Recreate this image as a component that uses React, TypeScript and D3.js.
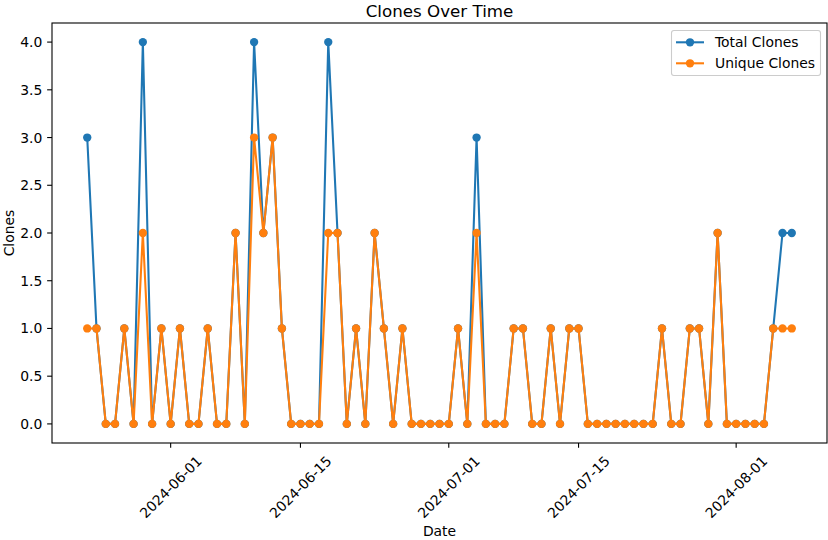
import * as d3 from 'd3';
import { useEffect, useRef } from 'react';

// daily clone counts, 2024-05-23 .. 2024-08-07
const startDate = '2024-05-23';
const totalClones = [
  3, 1, 0, 0, 1, 0, 4, 0, 1, 0,
  1, 0, 0, 1, 0, 0, 2, 0, 4, 2,
  3, 1, 0, 0, 0, 0, 4, 2, 0, 1,
  0, 2, 1, 0, 1, 0, 0, 0, 0, 0,
  1, 0, 3, 0, 0, 0, 1, 1, 0, 0,
  1, 0, 1, 1, 0, 0, 0, 0, 0, 0,
  0, 0, 1, 0, 0, 1, 1, 0, 2, 0,
  0, 0, 0, 0, 1, 2, 2,
];
const uniqueClones = [
  1, 1, 0, 0, 1, 0, 2, 0, 1, 0,
  1, 0, 0, 1, 0, 0, 2, 0, 3, 2,
  3, 1, 0, 0, 0, 0, 2, 2, 0, 1,
  0, 2, 1, 0, 1, 0, 0, 0, 0, 0,
  1, 0, 2, 0, 0, 0, 1, 1, 0, 0,
  1, 0, 1, 1, 0, 0, 0, 0, 0, 0,
  0, 0, 1, 0, 0, 1, 1, 0, 2, 0,
  0, 0, 0, 0, 1, 1, 1,
];
const xTickLabels = ['2024-06-01', '2024-06-15', '2024-07-01', '2024-07-15', '2024-08-01'];
const yTicks = [0, 0.5, 1, 1.5, 2, 2.5, 3, 3.5, 4];

const series = [
  { name: 'Total Clones', values: totalClones, color: '#1f77b4' },
  { name: 'Unique Clones', values: uniqueClones, color: '#ff7f0e' },
];

const App = () => {
  const svgRef = useRef<SVGSVGElement>(null);
  const width = 828, height = 540;
  const margin = { top: 23, right: 1, bottom: 97, left: 52 };
  const font = '"DejaVu Sans", sans-serif';
  const fs = 13.9;

  useEffect(() => {
    const svg = d3.select(svgRef.current);
    svg.selectAll('*').remove();

    const parse = d3.utcParse('%Y-%m-%d');
    const t0 = parse(startDate)!;
    const dates = totalClones.map((_, i) => d3.utcDay.offset(t0, i));
    const [dMin, dMax] = d3.extent(dates) as [Date, Date];
    const pad = (+dMax - +dMin) * 0.05;

    const x = d3.scaleUtc()
      .domain([new Date(+dMin - pad), new Date(+dMax + pad)])
      .range([margin.left, width - margin.right]);
    const y = d3.scaleLinear()
      .domain([-0.2, 4.2])
      .range([height - margin.bottom, margin.top]);

    const bottom = height - margin.bottom;

    // y ticks
    const yg = svg.append('g');
    yTicks.forEach(v => {
      yg.append('line')
        .attr('x1', margin.left - 4.86).attr('x2', margin.left)
        .attr('y1', y(v)).attr('y2', y(v))
        .attr('stroke', 'black').attr('stroke-width', 1.1);
      yg.append('text')
        .attr('x', margin.left - 9.7).attr('y', y(v))
        .attr('dy', '0.36em')
        .attr('text-anchor', 'end')
        .style('font-family', font).style('font-size', `${fs}px`)
        .text(d3.format('.1f')(v));
    });

    // x ticks
    const xg = svg.append('g');
    xTickLabels.forEach(lab => {
      const xp = x(parse(lab)!);
      xg.append('line')
        .attr('x1', xp).attr('x2', xp)
        .attr('y1', bottom).attr('y2', bottom + 4.86)
        .attr('stroke', 'black').attr('stroke-width', 1.1);
      xg.append('text')
        .attr('transform', `translate(${xp},${bottom + 44}) rotate(-45)`)
        .attr('text-anchor', 'middle')
        .attr('dy', '0.36em')
        .style('font-family', font).style('font-size', `${fs}px`)
        .text(lab);
    });

    // lines + markers
    const line = d3.line<number>()
      .x((_, i) => x(dates[i]))
      .y(d => y(d));
    series.forEach(s => {
      svg.append('path')
        .attr('d', line(s.values))
        .attr('fill', 'none')
        .attr('stroke', s.color)
        .attr('stroke-width', 2.08)
        .attr('stroke-linejoin', 'round')
        .attr('stroke-linecap', 'square');
      svg.append('g').selectAll('circle')
        .data(s.values)
        .join('circle')
        .attr('cx', (_, i) => x(dates[i]))
        .attr('cy', d => y(d))
        .attr('r', 4.17)
        .attr('fill', s.color);
    });

    // frame
    svg.append('rect')
      .attr('x', margin.left).attr('y', margin.top)
      .attr('width', width - margin.left - margin.right)
      .attr('height', height - margin.top - margin.bottom)
      .attr('fill', 'none').attr('stroke', 'black').attr('stroke-width', 1.1);

    // titles
    svg.append('text')
      .attr('x', (margin.left + width - margin.right) / 2).attr('y', 16.5)
      .attr('text-anchor', 'middle')
      .style('font-family', font).style('font-size', '16.7px')
      .text('Clones Over Time');
    svg.append('text')
      .attr('x', (margin.left + width - margin.right) / 2).attr('y', 536)
      .attr('text-anchor', 'middle')
      .style('font-family', font).style('font-size', `${fs}px`)
      .text('Date');
    svg.append('text')
      .attr('transform', `translate(13.5,${(margin.top + bottom) / 2}) rotate(-90)`)
      .attr('text-anchor', 'middle')
      .style('font-family', font).style('font-size', `${fs}px`)
      .text('Clones');

    // legend
    const lg = svg.append('g');
    lg.append('rect')
      .attr('x', 671.5).attr('y', 30.5).attr('width', 149).attr('height', 45)
      .attr('rx', 2.5)
      .attr('fill', 'white').attr('fill-opacity', 0.8)
      .attr('stroke', '#cccccc').attr('stroke-width', 1.1);
    series.forEach((s, i) => {
      const ly = 42.3 + i * 21;
      lg.append('line')
        .attr('x1', 676).attr('x2', 704).attr('y1', ly).attr('y2', ly)
        .attr('stroke', s.color).attr('stroke-width', 2.08);
      lg.append('circle').attr('cx', 690).attr('cy', ly).attr('r', 4.17).attr('fill', s.color);
      lg.append('text')
        .attr('x', 715).attr('y', ly).attr('dy', '0.36em')
        .style('font-family', font).style('font-size', `${fs}px`)
        .text(s.name);
    });
  }, []);

  return (
    <svg ref={svgRef} width={width} height={height}
      style={{ position: 'absolute', left: 0, top: 0, background: 'white' }} />
  );
};

export default App;
